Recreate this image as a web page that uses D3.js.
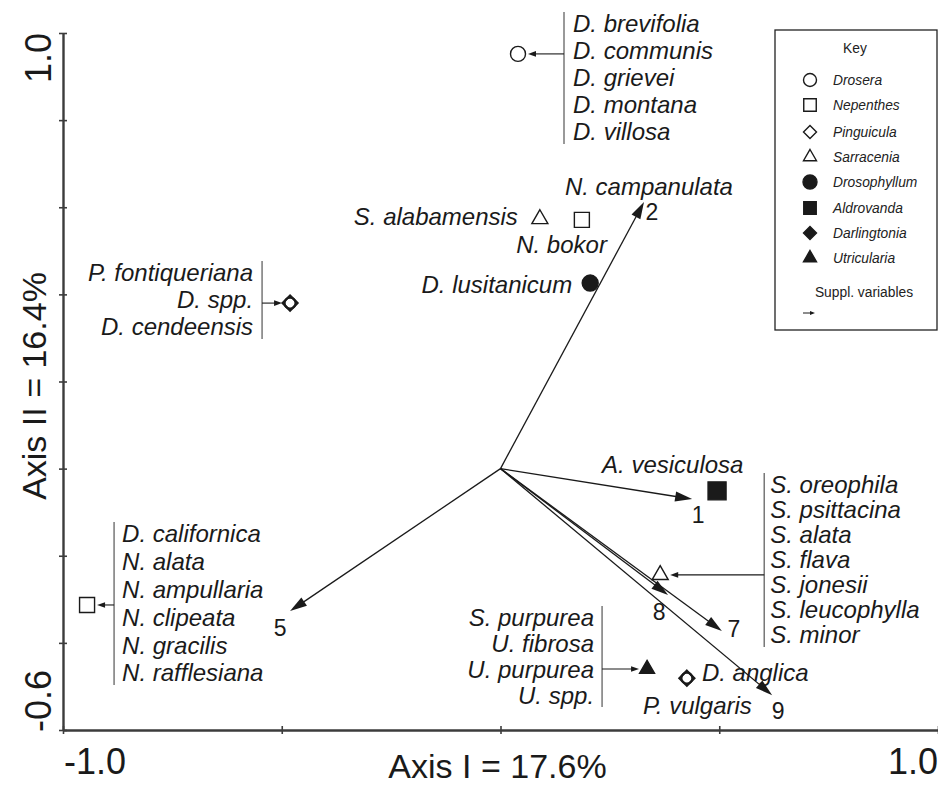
<!DOCTYPE html>
<html>
<head>
<meta charset="utf-8">
<script src="https://cdn.jsdelivr.net/npm/d3@7"></script>
<style>
  html, body { margin: 0; padding: 0; background: #fff; }
  svg { display: block; }
</style>
</head>
<body>
<svg id="chart" width="938" height="785"></svg>
<script>
// ---- axis ranges, ticks and titles ----
const xDomain = [-1.0, 1.0];
const yDomain = [-0.6, 1.0];
const xTicks = [-1.0, -0.5, 0, 0.5, 1.0];
const yTicks = [-0.6, -0.4, -0.2, 0, 0.2, 0.4, 0.6, 0.8, 1.0];
const xEndLabels = ["-1.0", "1.0"];
const yEndLabels = ["-0.6", "1.0"];
const xTitle = "Axis I = 17.6%";
const yTitle = "Axis II = 16.4%";

// ---- supplementary variables (arrows from the origin) ----
const varNames = ["1", "2", "5", "7", "8", "9"];
const varX = [0.438, 0.328, -0.481, 0.506, 0.383, 0.621];
const varY = [-0.070, 0.612, -0.327, -0.373, -0.290, -0.520];

// ---- genera in the key ----
const genera = ["Drosera", "Nepenthes", "Pinguicula", "Sarracenia",
                "Drosophyllum", "Aldrovanda", "Darlingtonia", "Utricularia"];

// ---- species scores ----
const pointX = [0.040, -0.481, -0.945, 0.090, 0.186, 0.205, 0.495, 0.365, 0.335, 0.426];
const pointY = [0.952, 0.380, -0.313, 0.573, 0.571, 0.426, -0.051, -0.244, -0.460, -0.481];
const pointGenera = [
  ["Drosera"],
  ["Drosera", "Pinguicula"],
  ["Nepenthes"],
  ["Sarracenia"],
  ["Nepenthes"],
  ["Drosophyllum"],
  ["Aldrovanda"],
  ["Sarracenia"],
  ["Utricularia"],
  ["Drosera", "Pinguicula"]
];
const pointSpecies = [
  ["D. brevifolia", "D. communis", "D. grievei", "D. montana", "D. villosa"],
  ["P. fontiqueriana", "D. spp.", "D. cendeensis"],
  ["D. californica", "N. alata", "N. ampullaria", "N. clipeata", "N. gracilis", "N. rafflesiana"],
  ["S. alabamensis"],
  ["N. campanulata", "N. bokor"],
  ["D. lusitanicum"],
  ["A. vesiculosa"],
  ["S. oreophila", "S. psittacina", "S. alata", "S. flava", "S. jonesii", "S. leucophylla", "S. minor"],
  ["S. purpurea", "U. fibrosa", "U. purpurea", "U. spp."],
  ["D. anglica", "P. vulgaris"]
];

// ---- label placement (pixel offsets from each point) ----
// bracket: species listed beside a vertical rule with a small arrow to the symbol
// free: each species name placed at its own offset
const labelLayout = [
  { kind: "bracket", side: "right", rule: 46, gap: 9, first: -30, step: 27 },
  { kind: "bracket", side: "left", rule: -28, gap: 9, first: -30, step: 27 },
  { kind: "bracket", side: "right", rule: 27, gap: 8, first: -71, step: 27.8 },
  { kind: "free", items: [{ dx: -22, dy: -2, anchor: "end" }] },
  { kind: "free", items: [{ dx: -17, dy: -33, anchor: "start" }, { dx: 25, dy: 25, anchor: "end" }] },
  { kind: "free", items: [{ dx: -18, dy: 2, anchor: "end" }] },
  { kind: "free", items: [{ dx: -115, dy: -26, anchor: "start" }] },
  { kind: "bracket", side: "right", rule: 104, gap: 6, first: -90, step: 25 },
  { kind: "bracket", side: "left", rule: -45, gap: 8, first: -51, step: 25.7 },
  { kind: "free", items: [{ dx: 15, dy: -6, anchor: "start" }, { dx: -44, dy: 27, anchor: "start" }] }
];
const varLabelOffset = [[6, 16], [8, 10], [-10, 17], [12, -2], [-9, 17], [6, 16]];

// ---- drawing ----
const ink = "#1a1a1a";
const font = "'Liberation Sans', Arial, Helvetica, sans-serif";
const labelSize = 24;
const svg = d3.select("#chart");

const xScale = d3.scaleLinear().domain(xDomain).range([63, 938]);
const yScale = d3.scaleLinear().domain(yDomain).range([730, 33]);

// axes: ticks cross the axis lines
const axisColor = "#3c3c3c";
function styleAxis(g) {
  g.select(".domain").attr("stroke", axisColor).attr("stroke-width", 1.9);
  g.selectAll(".tick line").attr("stroke", axisColor).attr("stroke-width", 1.6);
}
[4, -4].forEach(len => {
  svg.append("g")
    .attr("transform", `translate(${xScale(xDomain[0])},0)`)
    .call(d3.axisLeft(yScale).tickValues(yTicks).tickSizeInner(len).tickSizeOuter(0).tickFormat(""))
    .call(styleAxis);
  svg.append("g")
    .attr("transform", `translate(0,${yScale(yDomain[0])})`)
    .call(d3.axisBottom(xScale).tickValues(xTicks).tickSizeInner(len).tickSizeOuter(0).tickFormat(""))
    .call(styleAxis);
});

const gText = svg.append("g")
  .attr("font-family", font).attr("fill", ink);
gText.append("text").text(xEndLabels[0])
  .attr("x", xScale(xDomain[0]) + 1).attr("y", 774)
  .attr("font-size", 36).attr("text-anchor", "start");
gText.append("text").text(xEndLabels[1])
  .attr("x", xScale(xDomain[1])).attr("y", 774)
  .attr("font-size", 36).attr("text-anchor", "end");
gText.append("text").text(xTitle)
  .attr("x", xScale(0) - 3).attr("y", 778)
  .attr("font-size", 34).attr("text-anchor", "middle");
gText.append("text").text(yEndLabels[1])
  .attr("transform", `translate(51,${yScale(yDomain[1])}) rotate(-90)`)
  .attr("font-size", 36).attr("text-anchor", "end");
gText.append("text").text(yEndLabels[0])
  .attr("transform", `translate(51,${yScale(yDomain[0]) + 2}) rotate(-90)`)
  .attr("font-size", 36).attr("text-anchor", "start");
gText.append("text").text(yTitle)
  .attr("transform", `translate(46,386) rotate(-90)`)
  .attr("font-size", 34).attr("text-anchor", "middle");

// arrow helper: shaft plus filled triangular head
function drawArrow(g, x1, y1, x2, y2, len, half, width, colour) {
  const dx = x2 - x1, dy = y2 - y1;
  const d = Math.hypot(dx, dy);
  const ux = dx / d, uy = dy / d;
  const bx = x2 - ux * len, by = y2 - uy * len;
  g.append("line")
    .attr("x1", x1).attr("y1", y1)
    .attr("x2", x2 - ux * len * 0.6).attr("y2", y2 - uy * len * 0.6)
    .attr("stroke", colour).attr("stroke-width", width);
  g.append("path")
    .attr("d", `M${x2},${y2}L${bx - uy * half},${by + ux * half}L${bx + uy * half},${by - ux * half}Z`)
    .attr("fill", colour);
}

// symbol shapes by genus
const symbolStyle = {
  Drosera:      { shape: "circle",   fill: false },
  Nepenthes:    { shape: "square",   fill: false },
  Pinguicula:   { shape: "diamond",  fill: false },
  Sarracenia:   { shape: "triangle", fill: false },
  Drosophyllum: { shape: "circle",   fill: true },
  Aldrovanda:   { shape: "square",   fill: true },
  Darlingtonia: { shape: "diamond",  fill: true },
  Utricularia:  { shape: "triangle", fill: true }
};
function symbolPath(shape, s) {
  // s: overall size in px
  if (shape === "circle") {
    const r = s / 2;
    return `M${r},0A${r},${r} 0 1,1 ${-r},0A${r},${r} 0 1,1 ${r},0Z`;
  }
  if (shape === "square") {
    const h = s / 2;
    return `M${-h},${-h}H${h}V${h}H${-h}Z`;
  }
  if (shape === "diamond") {
    const h = s / 2;
    return `M0,${-h}L${h},0L0,${h}L${-h},0Z`;
  }
  // triangle, centred on its centroid
  const h = s * 0.866;
  return `M0,${-h * 2 / 3}L${s / 2},${h / 3}L${-s / 2},${h / 3}Z`;
}
function drawSymbol(g, genus, x, y, size, sw) {
  const st = symbolStyle[genus];
  g.append("path")
    .attr("transform", `translate(${x},${y})`)
    .attr("d", symbolPath(st.shape, size))
    .attr("fill", st.fill ? ink : "none")
    .attr("stroke", ink)
    .attr("stroke-width", sw);
}
const plotSize = { circle: 15, square: 15, diamond: 15, triangle: 16 };
const filledSize = { circle: 16, square: 18, diamond: 16, triangle: 15 };

// supplementary variable arrows
const gVars = svg.append("g");
const ox = xScale(0), oy = yScale(0);
varNames.forEach((name, i) => {
  const tx = xScale(varX[i]), ty = yScale(varY[i]);
  drawArrow(gVars, ox, oy, tx, ty, 17, 5, 1.3, ink);
  gVars.append("text").text(name)
    .attr("x", tx + varLabelOffset[i][0]).attr("y", ty + varLabelOffset[i][1])
    .attr("dy", "0.35em").attr("text-anchor", "middle")
    .attr("font-family", font).attr("font-size", 23).attr("fill", ink);
});

// species symbols and labels
const gPts = svg.append("g");
const ruleColour = "#555";
pointX.forEach((v, i) => {
  const px = xScale(v), py = yScale(pointY[i]);
  const gen = pointGenera[i];
  if (gen.length > 1) {
    // overlapping genera at one score: circle and diamond drawn together
    drawSymbol(gPts, gen[0], px, py, 11, 2.2);
    drawSymbol(gPts, gen[1], px, py, 15, 2.2);
  } else {
    const st = symbolStyle[gen[0]];
    const size = st.fill ? filledSize[st.shape] : plotSize[st.shape];
    drawSymbol(gPts, gen[0], px, py, size, 1.4);
  }

  const lay = labelLayout[i];
  const names = pointSpecies[i];
  const labelText = (x, y, anchor, t) => gPts.append("text").text(t)
    .attr("x", x).attr("y", y).attr("dy", "0.35em")
    .attr("text-anchor", anchor)
    .attr("font-family", font).attr("font-style", "italic")
    .attr("font-size", labelSize).attr("fill", ink);

  if (lay.kind === "bracket") {
    const rx = px + lay.rule;
    const firstY = py + lay.first;
    const lastY = firstY + lay.step * (names.length - 1);
    gPts.append("line")
      .attr("x1", rx).attr("x2", rx)
      .attr("y1", firstY - 12).attr("y2", lastY + 12)
      .attr("stroke", ruleColour).attr("stroke-width", 1.2);
    const toward = lay.rule > 0 ? px + 10 : px - 8;
    drawArrow(gPts, rx, py, toward, py, 8, 2.8, 1.1, ink);
    names.forEach((t, k) => {
      const ty = firstY + lay.step * k;
      if (lay.side === "right") labelText(rx + lay.gap, ty, "start", t);
      else labelText(rx - lay.gap, ty, "end", t);
    });
  } else {
    names.forEach((t, k) => {
      const it = lay.items[k];
      labelText(px + it.dx, py + it.dy, it.anchor, t);
    });
  }
});

// key
const keySize = 13.8;
const gKey = svg.append("g");
gKey.append("rect")
  .attr("x", 775).attr("y", 30).attr("width", 162).attr("height", 300)
  .attr("fill", "#fff").attr("stroke", "#222").attr("stroke-width", 1.3);
gKey.append("text").text("Key")
  .attr("x", 855).attr("y", 48).attr("dy", "0.35em").attr("text-anchor", "middle")
  .attr("font-family", font).attr("font-size", keySize).attr("fill", "#222");
const keyRows = [80, 105, 132, 157, 182, 208, 233, 258];
genera.forEach((g, i) => {
  const st = symbolStyle[g];
  const s = st.shape === "circle" ? (st.fill ? 14 : 13) : st.shape === "square" ? 12.5 : 13;
  drawSymbol(gKey, g, 810, keyRows[i], s, 1.4);
  gKey.append("text").text(g)
    .attr("x", 833).attr("y", keyRows[i]).attr("dy", "0.35em")
    .attr("font-family", font).attr("font-style", "italic")
    .attr("font-size", keySize).attr("fill", "#222");
});
gKey.append("text").text("Suppl. variables")
  .attr("x", 864).attr("y", 292).attr("dy", "0.35em").attr("text-anchor", "middle")
  .attr("font-family", font).attr("font-size", keySize).attr("fill", "#222");
drawArrow(gKey, 803, 313, 815, 313, 5, 2, 1, ink);
</script>
</body>
</html>
